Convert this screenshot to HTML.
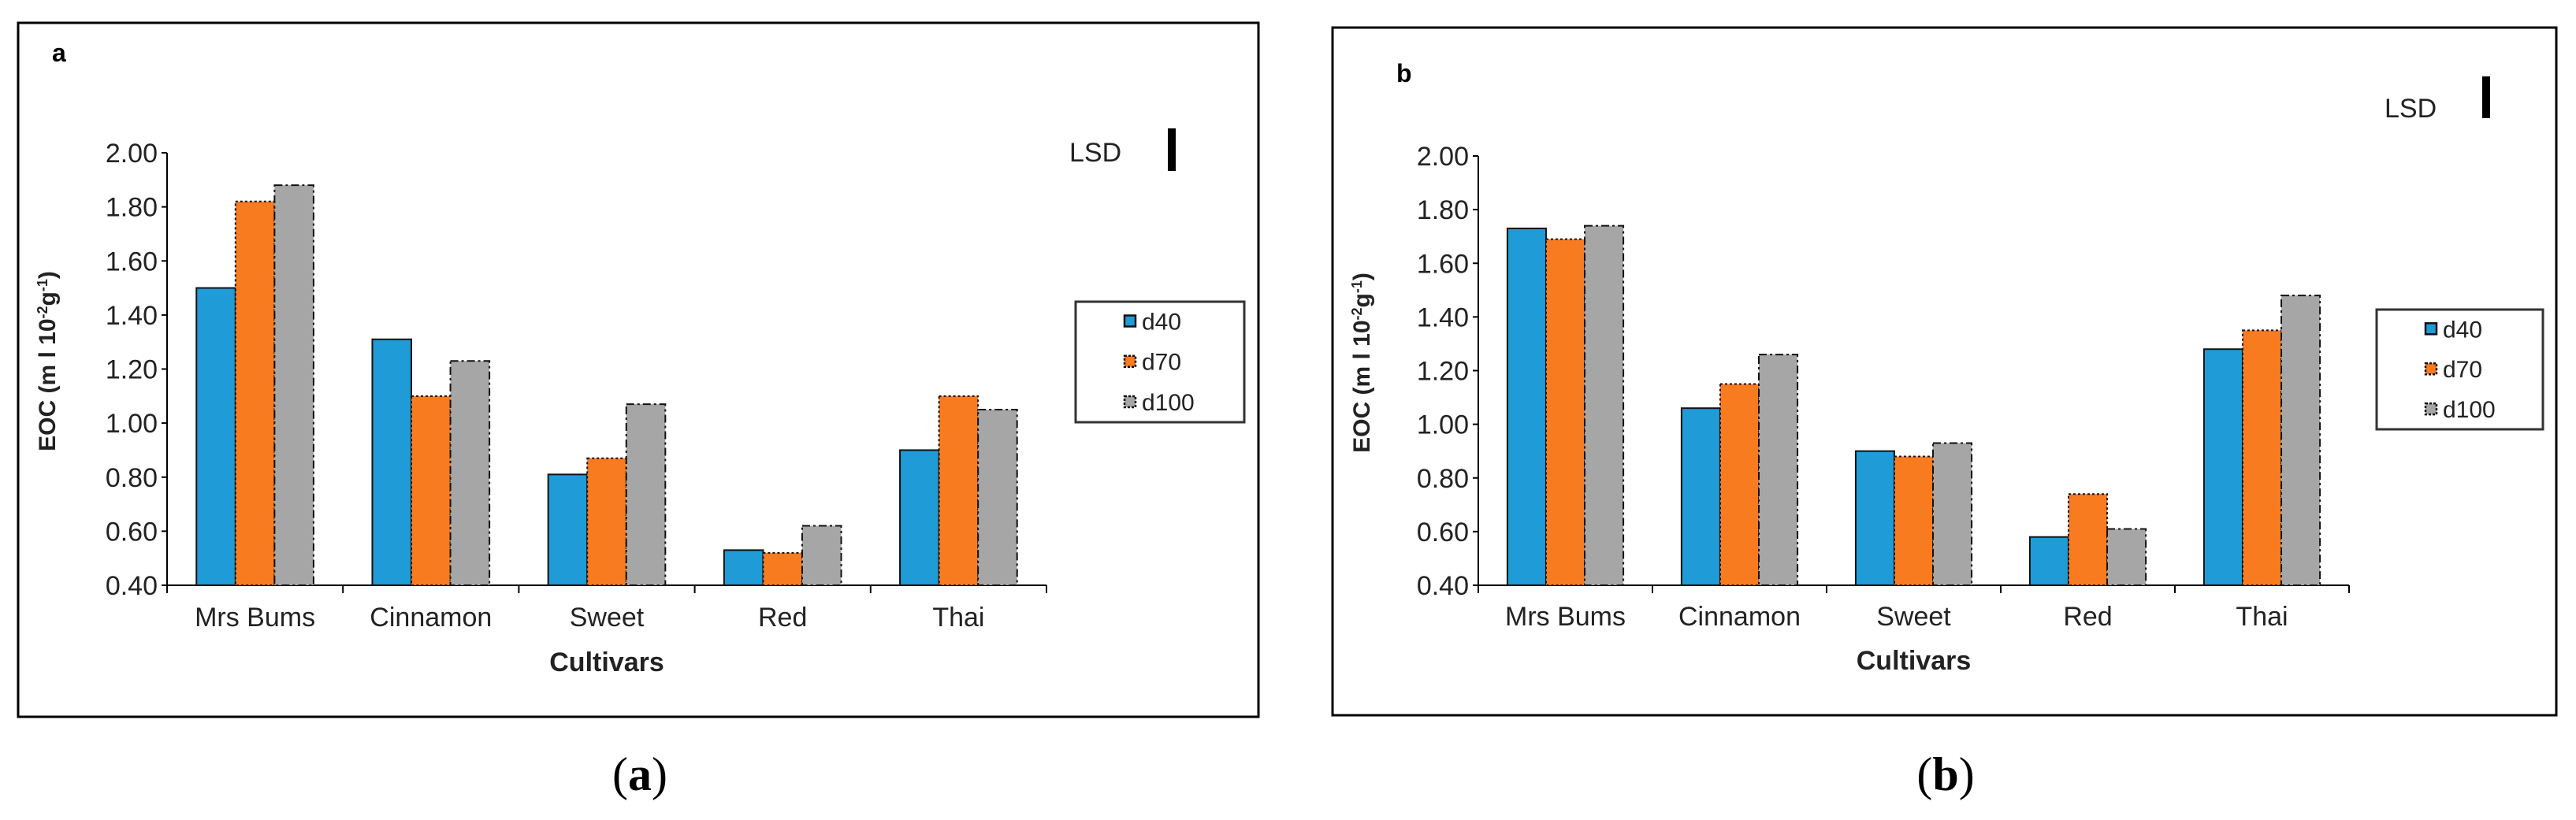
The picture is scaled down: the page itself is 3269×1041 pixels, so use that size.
<!DOCTYPE html>
<html><head><meta charset="utf-8"><style>
html,body{margin:0;padding:0;background:#fff;}
svg{display:block;}
text{font-family:"Liberation Sans",Arial,sans-serif;}
</style></head><body>
<svg id="svg" width="3269" height="1041" viewBox="0 0 3269 1041" xmlns="http://www.w3.org/2000/svg"></svg>
<script>
const categories = ["Mrs Bums","Cinnamon","Sweet","Red","Thai"];
const seriesNames = ["d40","d70","d100"];
const aD40 = [1.50,1.31,0.81,0.53,0.90];
const aD70 = [1.82,1.10,0.87,0.52,1.10];
const aD100 = [1.88,1.23,1.07,0.62,1.05];
const bD40 = [1.73,1.06,0.90,0.58,1.28];
const bD70 = [1.69,1.15,0.88,0.74,1.35];
const bD100 = [1.74,1.26,0.93,0.61,1.48];
const yTicks = [0.40,0.60,0.80,1.00,1.20,1.40,1.60,1.80,2.00];

const NS="http://www.w3.org/2000/svg";
const svg=document.getElementById('svg');
function mk(tag,attrs,parent,txt){const e=document.createElementNS(NS,tag);for(const k in attrs)e.setAttribute(k,attrs[k]);if(txt!==undefined)e.textContent=txt;(parent||svg).appendChild(e);return e;}

const colors=["#1f9bd7","#f97b20","#a6a6a6"];
const dashes=["none","3,3","10,4,3,4"];

function panel(p){
  const g=mk('g',{});
  
  
  const box=mk('rect',{x:p.bx,y:p.by,width:p.bw,height:p.bh,fill:'none',stroke:'#000','stroke-width':3},g);
  
  
  const t=mk('text',{x:p.lx,y:p.ly,'font-size':32,'font-weight':'bold'},g,p.id);
  
  
  const yScale=v=>p.y0+(v-0.4)/(2.0-0.4)*(p.y1-p.y0);
  // y axis
  const ya=mk('line',{x1:p.ax,y1:p.y1,x2:p.ax,y2:p.y0+6,stroke:'#000','stroke-width':2},g);
  
  
  yTicks.forEach(v=>{
    const y=yScale(v);
    mk('line',{x1:p.ax-7,y1:y,x2:p.ax,y2:y,stroke:'#000','stroke-width':2},g);
    const tl=mk('text',{x:p.ax-12,y:y+12,'font-size':34,'text-anchor':'end',fill:'#222'},g,v.toFixed(2));
    
    
  });
  const gw=(p.xe-p.ax)/categories.length;
  const bw=gw*0.222;
  const xa=mk('line',{x1:p.ax,y1:p.y0,x2:p.xe,y2:p.y0,stroke:'#000','stroke-width':2},g);
  
  
  for(let i=0;i<=categories.length;i++){
    mk('line',{x1:p.ax+i*gw,y1:p.y0,x2:p.ax+i*gw,y2:p.y0+10,stroke:'#000','stroke-width':2},g);
  }
  const series=p.series;
  categories.forEach((c,i)=>{
    const gx=p.ax+i*gw+(gw-3*bw)/2;
    series.forEach((s,j)=>{
      const v=s[i];const y=yScale(v);
      const r=mk('rect',{x:gx+j*bw,y:y,width:bw,height:p.y0-y,fill:colors[j],stroke:'#111','stroke-width':2,'stroke-dasharray':dashes[j]},g);
      
      
    });
    const cl=mk('text',{x:p.ax+(i+0.5)*gw,y:p.catY,'font-size':34,'text-anchor':'middle',fill:'#222'},g,c);
    
    
  });
  const xt=mk('text',{x:(p.ax+p.xe)/2,y:p.xtY,'font-size':34,'font-weight':'bold','text-anchor':'middle',fill:'#222'},g,'Cultivars');
  
  
  const yt=mk('text',{x:0,y:0,'font-size':30,'font-weight':'bold','text-anchor':'middle',fill:'#222',transform:`translate(${p.ytX},${(p.y0+p.y1)/2-10}) rotate(-90)`},g);
  
  
  mk('tspan',{},yt,'EOC  (m l 10');
  mk('tspan',{dy:-10,'font-size':18},yt,'-2');
  mk('tspan',{dy:10},yt,'g');
  mk('tspan',{dy:-10,'font-size':18},yt,'-1');
  mk('tspan',{dy:10},yt,')');
  // LSD
  const ls=mk('text',{x:p.lsdX,y:p.lsdY+12,'font-size':34,fill:'#222'},g,'LSD');
  
  
  const lb=mk('rect',{x:p.lsdBX,y:p.lsdBY,width:10,height:p.lsdBH,fill:'#000'},g);
  
  
  // legend
  const lg=mk('g',{},g);
  
  
  mk('rect',{x:p.legX,y:p.legY,width:p.legW,height:p.legH,fill:'#fff',stroke:'#333','stroke-width':3},lg);
  seriesNames.forEach((n,j)=>{
    const ey=p.legY+p.legH*(0.16+0.335*j);
    const e=mk('g',{},lg);
    
    
    mk('rect',{x:p.legX+62,y:ey-7,width:14,height:14,fill:colors[j],stroke:'#111','stroke-width':2.5,'stroke-dasharray':dashes[j]==='none'?'none':'3,2'},e);
    mk('text',{x:p.legX+84,y:ey+11,'font-size':30,fill:'#222'},e,n);
  });
  // caption
  const cap=mk('text',{x:p.capX,y:p.capY,'font-size':60,'text-anchor':'middle','font-family':'"Liberation Serif",serif'},svg);
  
  
  cap.style.fontFamily='"Liberation Serif",serif';
  mk('tspan',{},cap,'(');
  mk('tspan',{'font-weight':'bold'},cap,p.id);
  mk('tspan',{},cap,')');
}

panel({id:'a',bx:23,by:29,bw:1574,bh:881,lx:66,ly:78,ax:212,xe:1328,y0:743,y1:194,catY:795,xtY:852,ytX:70,
  series:[aD40,aD70,aD100],lsdX:1357,lsdY:193,lsdBX:1482,lsdBY:163,lsdBH:54,
  legX:1365,legY:383,legW:214,legH:153,capX:812,capY:1003});
panel({id:'b',bx:1691,by:35,bw:1553,bh:873,lx:1772,ly:104,ax:1876,xe:2981,y0:743,y1:198,catY:794,xtY:850,ytX:1738,
  series:[bD40,bD70,bD100],lsdX:3026,lsdY:137,lsdBX:3150,lsdBY:97,lsdBH:53,
  legX:3016,legY:393,legW:211,legH:152,capX:2469,capY:1003});
</script>
</body></html>
